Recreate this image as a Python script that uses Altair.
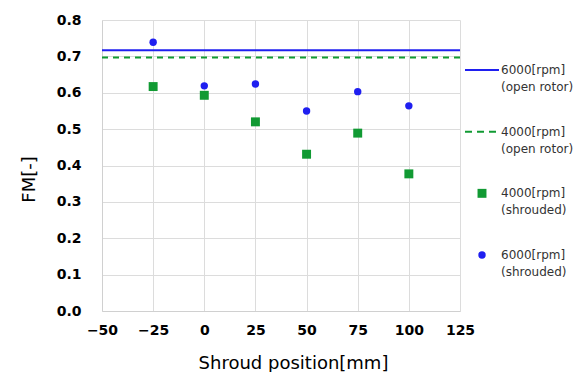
import altair as alt
import pandas as pd

positions = [-25, 0, 25, 50, 75, 100]
fm_4000_shrouded = [0.617, 0.593, 0.520, 0.431, 0.489, 0.377]
fm_6000_shrouded = [0.739, 0.619, 0.624, 0.550, 0.603, 0.564]
fm_6000_open = 0.717
fm_4000_open = 0.697

legend_labels = ["6000[rpm]\n(open rotor)", "4000[rpm]\n(open rotor)",
                 "4000[rpm]\n(shrouded)", "6000[rpm]\n(shrouded)"]
legend_kinds = ["solid", "dashed", "square", "circle"]
legend_order = [0, 1, 2, 3]

BLUE = "#1f1ff0"
GREEN = "#119a33"

FONT = "DejaVu Sans"

pts = pd.DataFrame({
    "x": positions * 2,
    "y": fm_4000_shrouded + fm_6000_shrouded,
    "series": ["4000s"] * 6 + ["6000s"] * 6,
})
lines = pd.DataFrame({"y": [fm_6000_open, fm_4000_open], "series": ["6000o", "4000o"]})

xs = alt.Scale(domain=[-50, 125], nice=False, zero=False)
ys = alt.Scale(domain=[0, 0.8], nice=False, zero=True)

xaxis = alt.Axis(values=list(range(-50, 126, 25)), title="Shroud position[mm]",
                 labelFontWeight="bold", labelFontSize=14, labelFont=FONT,
                 titleFont=FONT, titleFontSize=18, titleFontWeight="normal",
                 titleColor="#000", labelColor="#000", ticks=False,
                 labelPadding=12, titlePadding=17, titleX=191, gridColor="#dcdcdc",
                 domainColor="#d0d0d0", labelFlush=False)
yaxis = alt.Axis(values=[i / 10 for i in range(9)], format=".1f", title="FM[-]",
                 labelFontWeight="bold", labelFontSize=14, labelFont=FONT,
                 titleFont=FONT, titleFontSize=18, titleFontWeight="normal",
                 titleColor="#000", labelColor="#000", ticks=False,
                 labelPadding=21, titlePadding=18, titleY=159, gridColor="#dcdcdc",
                 domainColor="#d0d0d0", labelFlush=False)

sq = alt.Chart(pts).transform_filter("datum.series == '4000s'").mark_square(
    size=80, color=GREEN, opacity=1).encode(
    x=alt.X("x:Q", scale=xs, axis=xaxis), y=alt.Y("y:Q", scale=ys, axis=yaxis))
ci = alt.Chart(pts).transform_filter("datum.series == '6000s'").mark_circle(
    size=55, color=BLUE, opacity=1).encode(
    x=alt.X("x:Q", scale=xs, axis=xaxis), y=alt.Y("y:Q", scale=ys, axis=yaxis))

l6 = alt.Chart(lines).transform_filter("datum.series == '6000o'").mark_rule(
    color=BLUE, strokeWidth=2).encode(y=alt.Y("y:Q", scale=ys, axis=yaxis))
l4 = alt.Chart(lines).transform_filter("datum.series == '4000o'").mark_rule(
    color=GREEN, strokeWidth=2, strokeDash=[6, 5]).encode(y=alt.Y("y:Q", scale=ys, axis=yaxis))

main = alt.layer(l6, l4, sq, ci).properties(width=358, height=291)

leg = pd.DataFrame({"label": legend_labels, "kind": legend_kinds, "order": legend_order})
lys = alt.Scale(domain=[0, 3], range=[50, 235], nice=False, zero=False)
ly = alt.Y("order:Q", scale=lys, axis=None)
lxs = alt.Scale(domain=[0, 120], nice=False, zero=False)

leg_solid = alt.Chart(leg).transform_filter("datum.kind == 'solid'").mark_rule(
    color=BLUE, strokeWidth=2).encode(
    x=alt.datum(5, scale=lxs, axis=None), x2=alt.datum(39), y=ly)
leg_dash = alt.Chart(leg).transform_filter("datum.kind == 'dashed'").mark_rule(
    color=GREEN, strokeWidth=2, strokeDash=[7, 5]).encode(
    x=alt.datum(5, scale=lxs, axis=None), x2=alt.datum(39), y=ly)
leg_sq = alt.Chart(leg).transform_filter("datum.kind == 'square'").mark_square(
    size=80, color=GREEN, opacity=1).encode(x=alt.datum(22, scale=lxs, axis=None), y=ly)
leg_ci = alt.Chart(leg).transform_filter("datum.kind == 'circle'").mark_circle(
    size=55, color=BLUE, opacity=1).encode(x=alt.datum(22, scale=lxs, axis=None), y=ly)
leg_txt = alt.Chart(leg).mark_text(
    align="left", baseline="middle", lineBreak="\n", lineHeight=17,
    font=FONT, fontSize=12, color="#333").encode(
    x=alt.datum(41, scale=lxs, axis=None), y=ly, text="label:N")

legend = alt.layer(leg_solid, leg_dash, leg_sq, leg_ci, leg_txt).properties(width=120, height=291)

chart = alt.hconcat(main, legend, spacing=0, bounds="flush").resolve_scale(
    x="independent", y="independent"
).properties(
    padding={"left": 20, "top": 13, "right": 0, "bottom": 0},
    background="white",
).configure_view(stroke=None)

chart.save("out.html", embed_options={"renderer": "svg", "actions": False})
